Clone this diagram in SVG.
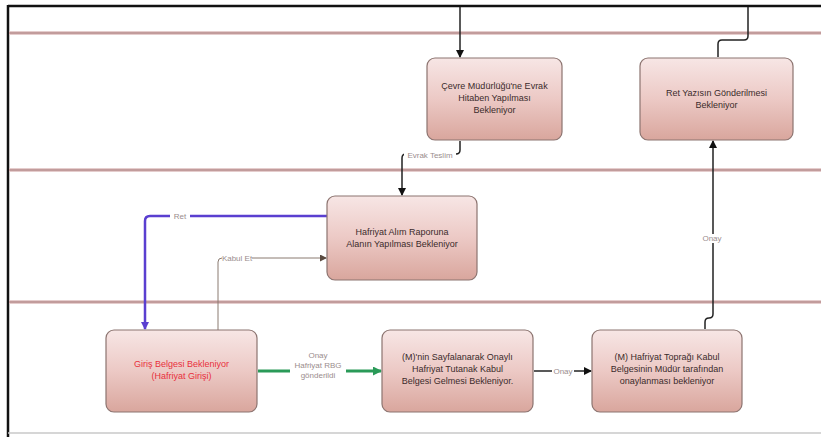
<svg xmlns="http://www.w3.org/2000/svg" width="821" height="437" viewBox="0 0 821 437">
<style>
.node rect{fill:url(#g);stroke:#8c7470;stroke-width:1.2}
.t{font-family:"Liberation Sans",Arial,sans-serif;font-size:9px;fill:#3b2b2b;text-anchor:middle}
.red{fill:#e8303c}
.lbl{font-family:"Liberation Sans",Arial,sans-serif;font-size:8px;fill:#9a8d8d;text-anchor:middle}
.lane{stroke:#dcbcbc;stroke-width:3.5}
.lanec{stroke:#a87c7c;stroke-width:1}
.c{fill:none;stroke:#222;stroke-width:1.5}
</style>
<defs>
<linearGradient id="g" x1="0" y1="0" x2="0" y2="1">
<stop offset="0" stop-color="#f7e6e5"/>
<stop offset="0.5" stop-color="#ecc9c5"/>
<stop offset="1" stop-color="#d9a69d"/>
</linearGradient>
<marker id="ab" markerWidth="8" markerHeight="8" refX="7" refY="4" orient="auto" markerUnits="userSpaceOnUse"><path d="M0,0 L8,4 L0,8 z" fill="#111"/></marker>
<marker id="ap" markerWidth="8" markerHeight="8" refX="7" refY="4" orient="auto" markerUnits="userSpaceOnUse"><path d="M0,0 L8,4 L0,8 z" fill="#5a3fd0"/></marker>
<marker id="ag" markerWidth="9" markerHeight="9" refX="8" refY="4.5" orient="auto" markerUnits="userSpaceOnUse"><path d="M0,0 L9,4.5 L0,9 z" fill="#2a9a58"/></marker>
<marker id="at" markerWidth="7" markerHeight="7" refX="6" refY="3.5" orient="auto" markerUnits="userSpaceOnUse"><path d="M0,0 L7,3.5 L0,7 z" fill="#5a4a40"/></marker>
</defs>
<rect width="821" height="437" fill="#ffffff"/>
<g id="frame">
<line x1="8" y1="6" x2="821" y2="6" stroke="#111" stroke-width="2.5"/>
<line x1="8" y1="5" x2="8" y2="437" stroke="#111" stroke-width="2.5"/>
<line x1="8" y1="433" x2="821" y2="433" stroke="#c8c8c8" stroke-width="1.5"/>
</g>
<g id="lanes">
<line class="lane" x1="9" y1="33" x2="821" y2="33"/><line class="lanec" x1="9" y1="33" x2="821" y2="33"/>
<line class="lane" x1="9" y1="170" x2="821" y2="170"/><line class="lanec" x1="9" y1="170" x2="821" y2="170"/>
<line class="lane" x1="9" y1="302" x2="821" y2="302"/><line class="lanec" x1="9" y1="302" x2="821" y2="302"/>
</g>
<g id="connectors">
<path class="c" d="M460,7 V57" marker-end="url(#ab)"/>
<path class="c" d="M748,7 V36 Q748,40 744,40 H722 Q718,40 718,44 V57" />
<path class="c" d="M460,141 V150 Q460,154 456,154 H406 Q402,154 402,158 V195" marker-end="url(#ab)"/>
<rect x="404" y="151" width="52" height="9" fill="#fff"/>
<text class="lbl" x="430" y="158">Evrak Teslim</text>
<path d="M327,216 H150 Q145,216 145,221 V329" fill="none" stroke="#5a3fd0" stroke-width="2.5" marker-end="url(#ap)"/>
<rect x="170" y="212" width="20" height="9" fill="#fff"/>
<text class="lbl" x="180" y="219">Ret</text>
<path d="M218,330 V262 Q218,258 222,258 H326" fill="none" stroke="#8a7a70" stroke-width="1" marker-end="url(#at)"/>
<rect x="222" y="254" width="30" height="9" fill="#fff"/>
<text class="lbl" x="237" y="261">Kabul Et</text>
<path d="M258,371 H381" fill="none" stroke="#2a9a58" stroke-width="3" marker-end="url(#ag)"/>
<rect x="290" y="350" width="56" height="31" fill="#fff"/>
<text class="lbl" x="318" y="358">Onay</text>
<text class="lbl" x="318" y="368">Hafriyat RBG</text>
<text class="lbl" x="318" y="378">gönderildi</text>
<path class="c" d="M534,371 H591" marker-end="url(#ab)"/>
<rect x="552" y="367" width="22" height="9" fill="#fff"/>
<text class="lbl" x="563" y="374">Onay</text>
<path class="c" d="M705,329 V322 Q705,318 709,318 Q713,318 713,314 V141" marker-end="url(#ab)"/>
<rect x="700" y="234" width="24" height="9" fill="#fff"/>
<text class="lbl" x="712" y="241">Onay</text>
</g>
<g id="n1" class="node"><rect x="427" y="58" width="135" height="82" rx="8"/>
<text class="t" x="494.5" y="89">Çevre Müdürlüğü'ne Evrak</text>
<text class="t" x="494.5" y="101">Hitaben Yapılması</text>
<text class="t" x="494.5" y="113">Bekleniyor</text></g>
<g id="n2" class="node"><rect x="640" y="58" width="153" height="82" rx="8"/>
<text class="t" x="716.5" y="96">Ret Yazısın Gönderilmesi</text>
<text class="t" x="716.5" y="108">Bekleniyor</text></g>
<g id="n3" class="node"><rect x="327" y="196" width="150" height="84" rx="8"/>
<text class="t" x="402" y="235">Hafriyat Alım Raporuna</text>
<text class="t" x="402" y="247">Alanın Yapılması Bekleniyor</text></g>
<g id="n4" class="node"><rect x="106" y="330" width="151" height="82" rx="8"/>
<text class="t red" x="181.5" y="367">Giriş Belgesi Bekleniyor</text>
<text class="t red" x="181.5" y="379">(Hafriyat Girişi)</text></g>
<g id="n5" class="node"><rect x="382" y="330" width="151" height="82" rx="8"/>
<text class="t" x="457.5" y="360">(M)'nin Sayfalanarak Onaylı</text>
<text class="t" x="457.5" y="372">Hafriyat Tutanak Kabul</text>
<text class="t" x="457.5" y="384">Belgesi Gelmesi Bekleniyor.</text></g>
<g id="n6" class="node"><rect x="592" y="330" width="150" height="82" rx="8"/>
<text class="t" x="667" y="360">(M) Hafriyat Toprağı Kabul</text>
<text class="t" x="667" y="372">Belgesinin Müdür tarafından</text>
<text class="t" x="667" y="384">onaylanması bekleniyor</text></g>
</svg>
